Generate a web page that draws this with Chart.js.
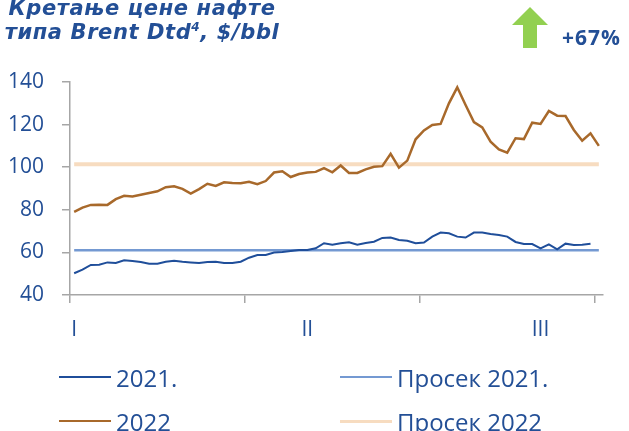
<!DOCTYPE html>
<html>
<head>
<meta charset="utf-8">
<script src="https://cdn.jsdelivr.net/npm/chart.js@4.4.1/dist/chart.umd.min.js"></script>
<style>
  html, body { margin: 0; padding: 0; background: #fff; }
  #wrap { position: relative; width: 629px; height: 431px; overflow: hidden; font-family: "Open Sans", sans-serif; color: #234f96; }
  #brentChart { position: absolute; left: 0; top: 0; }
  #title { position: absolute; left: -60px; top: -4px; width: 404px; text-align: center; font-family: "DejaVu Sans", sans-serif; font-weight: bold; font-style: italic; font-size: 21px; line-height: 24px; letter-spacing: 0.6px; white-space: nowrap; }
  #title sup { font-size: 12px; line-height: 0; }
  #change { position: absolute; left: 562px; top: 22px; font-weight: bold; font-size: 21px; line-height: 30px; letter-spacing: 1px; }
  #arrow { position: absolute; left: 0; top: 0; }
  .item { position: absolute; height: 30px; display: flex; align-items: center; font-size: 24px; white-space: nowrap; }
  .item span.ln { display: inline-block; width: 52px; margin-right: 5px; }
</style>
</head>
<body>
<div id="wrap">
  <canvas id="brentChart" width="629" height="431"></canvas>
  <div id="title">Кретање цене нафте<br>типа Brent Dtd<sup>4</sup>, $/bbl</div>
  <svg id="arrow" width="629" height="60"><polygon points="530,7 548,25 537,25 537,48 523,48 523,25 512,25" fill="#92d050"/></svg>
  <div id="change">+67%</div>
  <div id="legend"></div>
</div>
<script>
// weekly points, Jan - Sep
const xLabels = ['I', '', '', '', '', '', '', '', '', '', '', '', '', '', '', '', '', '', '', '', '', '', '', '', '', '', '', '',
                 'II', '', '', '', '', '', '', '', '', '', '', '', '', '', '', '', '', '', '', '', '', '', '', '', '', '', '', '',
                 'III', '', '', '', '', '', '', ''];

const brent2021 = [50.2, 51.9, 54.1, 54.2, 55.3, 55.0, 56.3, 56.0, 55.5, 54.7,
                   54.7, 55.6, 56.1, 55.6, 55.3, 55.0, 55.5, 55.6, 55.0, 55.0,
                   55.6, 57.5, 58.8, 58.8, 59.9, 60.2, 60.7, 61.1, 61.1, 61.9,
                   64.3, 63.6, 64.3, 64.8, 63.6, 64.4, 65.0, 66.8, 67.0, 65.8,
                   65.5, 64.3, 64.6, 67.4, 69.3, 69.0, 67.4, 67.0, 69.3, 69.3,
                   68.6, 68.2, 67.4, 64.9, 63.9, 63.9, 61.9, 63.8, 61.4, 64.1,
                   63.5, 63.6, 64.1, null];

const brent2022 = [79.0, 81.0, 82.3, 82.4, 82.3, 85.0, 86.6, 86.3, 87.1, 87.9,
                   88.7, 90.6, 91.0, 89.8, 87.6, 89.7, 92.2, 91.2, 92.9, 92.6,
                   92.5, 93.2, 92.0, 93.5, 97.5, 98.1, 95.4, 96.8, 97.5, 97.8,
                   99.6, 97.6, 100.8, 97.3, 97.3, 99.0, 100.2, 100.5, 106.3, 99.8,
                   103.1, 113.1, 117.3, 119.8, 120.3, 130.0, 137.5, 129.2, 121.2, 118.7,
                   112.0, 108.4, 106.8, 113.6, 113.2, 120.9, 120.3, 126.4, 124.2, 124.0,
                   117.5, 112.4, 115.9, 110.0];

const mean2021 = 61.0;
const mean2022 = 101.4;

const yTicks = [40, 60, 80, 100, 120, 140];

const seriesNames = ['2021.', '2022', 'Просек 2021.', 'Просек 2022'];
const seriesColors = ['#1f4e9a', '#a8692b', '#7499d2', '#f7dcc0'];
const seriesWidths = [2, 2.5, 2.5, 4];

const textBlue = '#234f96';
const axisGrey = '#a6a6a6';

function makeDataset(i, values) {
    return {
        label: seriesNames[i],
        data: values,
        borderColor: seriesColors[i],
        borderWidth: seriesWidths[i],
        pointRadius: 0,
        tension: 0,
        fill: false,
        spanGaps: false
    };
}

// Build the legend (two columns, like the original)
function buildLegend() {
    const spots = [[59, 362], [59, 406], [340, 362], [340, 406]];
    const box = document.getElementById('legend');
    seriesNames.forEach((name, i) => {
        const d = document.createElement('div');
        d.className = 'item';
        d.style.left = spots[i][0] + 'px';
        d.style.top = spots[i][1] + 'px';
        const ln = document.createElement('span');
        ln.className = 'ln';
        ln.style.borderTop = (i === 3 ? 3 : 2) + 'px solid ' + seriesColors[i];
        d.appendChild(ln);
        d.appendChild(document.createTextNode(name));
        box.appendChild(d);
    });
}

document.addEventListener('DOMContentLoaded', () => {
    const ctx = document.getElementById('brentChart').getContext('2d');
    new Chart(ctx, {
        type: 'line',
        data: {
            labels: xLabels,
            datasets: [
                makeDataset(0, brent2021),
                makeDataset(1, brent2022),
                makeDataset(2, xLabels.map(() => mean2021)),
                makeDataset(3, xLabels.map(() => mean2022))
            ]
        },
        options: {
            responsive: false,
            animation: false,
            layout: { padding: { top: 82, right: 26, bottom: 0, left: 0 } },
            plugins: {
                legend: { display: false },
                tooltip: { enabled: false }
            },
            scales: {
                x: {
                    type: 'category',
                    offset: true,
                    border: { color: axisGrey, width: 1.5 },
                    grid: {
                        offset: true,
                        drawOnChartArea: false,
                        tickLength: 8,
                        lineWidth: 1.5,
                        tickColor: c => (c.index % 21 === 0 ? axisGrey : 'rgba(0,0,0,0)')
                    },
                    ticks: {
                        autoSkip: false,
                        maxRotation: 0,
                        padding: 14,
                        color: textBlue,
                        font: { family: 'Open Sans', size: 21 }
                    },
                    afterFit: s => { s.height = 136; }
                },
                y: {
                    min: 40,
                    max: 140,
                    border: { color: axisGrey, width: 1.5 },
                    grid: { drawOnChartArea: false, tickLength: 8, lineWidth: 1.5, color: axisGrey },
                    afterBuildTicks: s => { s.ticks = yTicks.map(v => ({ value: v })); },
                    ticks: {
                        padding: 18,
                        crossAlign: 'near',
                        color: textBlue,
                        font: { family: 'Open Sans', size: 21 }
                    },
                    afterFit: s => { s.width = 70; }
                }
            }
        }
    });
    buildLegend();
});
</script>
</body>
</html>
